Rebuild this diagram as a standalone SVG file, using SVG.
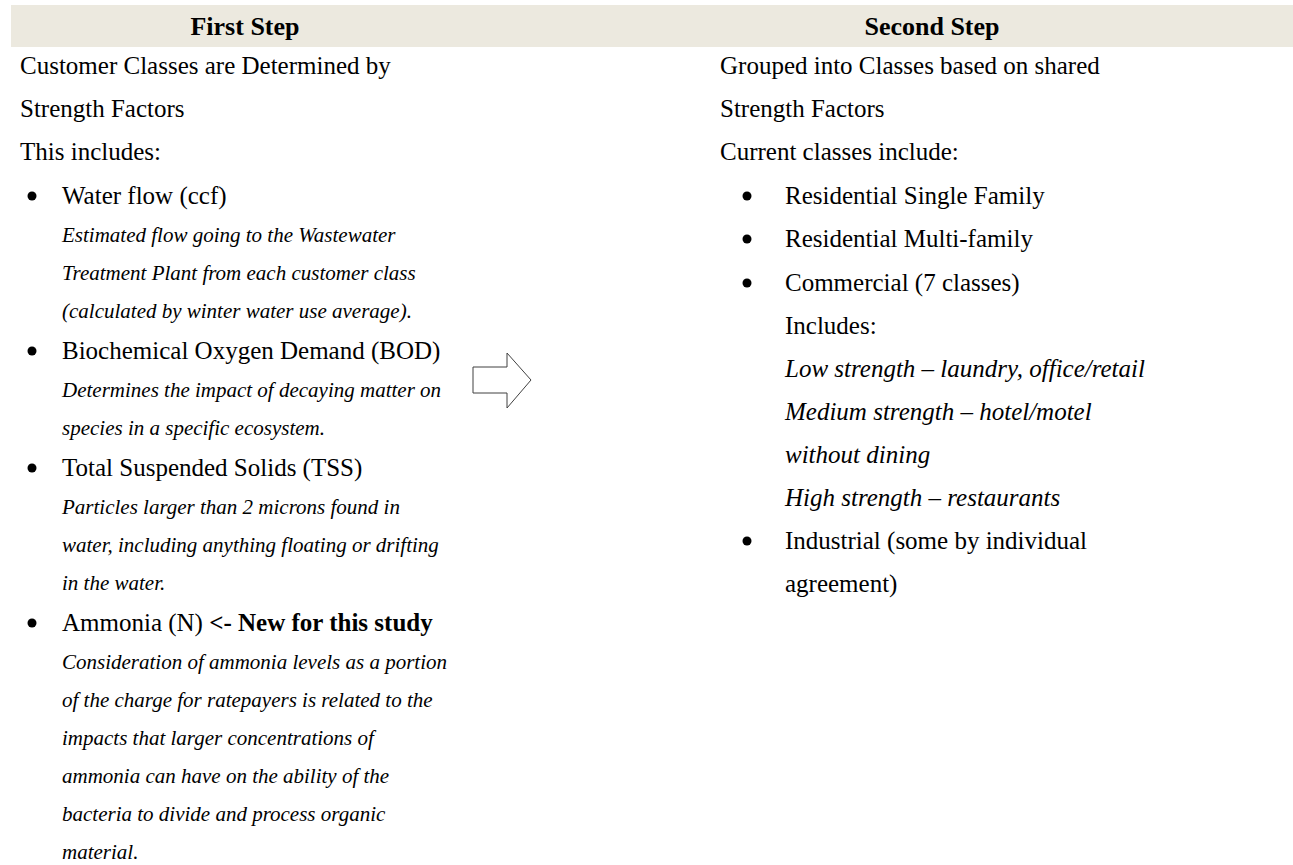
<svg xmlns="http://www.w3.org/2000/svg" width="1293" height="865" viewBox="0 0 1293 865">
<style>
text{font-family:"Liberation Serif","Times New Roman",serif;fill:#000}
.hdr{font-size:26px;font-weight:bold;text-anchor:middle}
.reg{font-size:25px}
.li{font-size:21px;font-style:italic}
.ri{font-size:25px;font-style:italic}
.b{font-weight:bold}
.dot{fill:#000}
.arrow{fill:#fff;stroke:#404040;stroke-width:1}
</style>
<rect width="1293" height="865" fill="#fff"/>
<g id="header">
<rect x="11" y="5" width="1282" height="42" fill="#ECE9DF"/>
<text class="hdr" x="245" y="35">First Step</text>
<text class="hdr" x="932" y="35">Second Step</text>
</g>
<g id="first-step">
<text class="reg" x="20" y="74">Customer Classes are Determined by</text>
<text class="reg" x="20" y="117">Strength Factors</text>
<text class="reg" x="20" y="160">This includes:</text>
<circle class="dot" cx="32" cy="196" r="4.5"/>
<text class="reg" x="62" y="204">Water flow (ccf)</text>
<text class="li" x="62" y="242">Estimated flow going to the Wastewater</text>
<text class="li" x="62" y="280">Treatment Plant from each customer class</text>
<text class="li" x="62" y="318">(calculated by winter water use average).</text>
<circle class="dot" cx="32" cy="351" r="4.5"/>
<text class="reg" x="62" y="359">Biochemical Oxygen Demand (BOD)</text>
<text class="li" x="62" y="397">Determines the impact of decaying matter on</text>
<text class="li" x="62" y="435">species in a specific ecosystem.</text>
<circle class="dot" cx="32" cy="468" r="4.5"/>
<text class="reg" x="62" y="476">Total Suspended Solids (TSS)</text>
<text class="li" x="62" y="514">Particles larger than 2 microns found in</text>
<text class="li" x="62" y="552">water, including anything floating or drifting</text>
<text class="li" x="62" y="590">in the water.</text>
<circle class="dot" cx="32" cy="623" r="4.5"/>
<text class="reg" x="62" y="631">Ammonia (N) <tspan class="b">&lt;- New for this study</tspan></text>
<text class="li" x="62" y="669">Consideration of ammonia levels as a portion</text>
<text class="li" x="62" y="707">of the charge for ratepayers is related to the</text>
<text class="li" x="62" y="745">impacts that larger concentrations of</text>
<text class="li" x="62" y="783">ammonia can have on the ability of the</text>
<text class="li" x="62" y="821">bacteria to divide and process organic</text>
<text class="li" x="62" y="859">material.</text>
</g>
<g id="connectors">
<polygon class="arrow" points="473,367 507,367 507,353 531,380 507,408 507,393 473,393"/>
</g>
<g id="second-step">
<text class="reg" x="720" y="74">Grouped into Classes based on shared</text>
<text class="reg" x="720" y="117">Strength Factors</text>
<text class="reg" x="720" y="160">Current classes include:</text>
<circle class="dot" cx="747" cy="196" r="4.5"/>
<text class="reg" x="785" y="204">Residential Single Family</text>
<circle class="dot" cx="747" cy="239" r="4.5"/>
<text class="reg" x="785" y="247">Residential Multi-family</text>
<circle class="dot" cx="747" cy="283" r="4.5"/>
<text class="reg" x="785" y="291">Commercial (7 classes)</text>
<text class="reg" x="785" y="334">Includes:</text>
<text class="ri" x="785" y="377">Low strength – laundry, office/retail</text>
<text class="ri" x="785" y="420">Medium strength – hotel/motel</text>
<text class="ri" x="785" y="463">without dining</text>
<text class="ri" x="785" y="506">High strength – restaurants</text>
<circle class="dot" cx="747" cy="541" r="4.5"/>
<text class="reg" x="785" y="549">Industrial (some by individual</text>
<text class="reg" x="785" y="592">agreement)</text>
</g>
</svg>
